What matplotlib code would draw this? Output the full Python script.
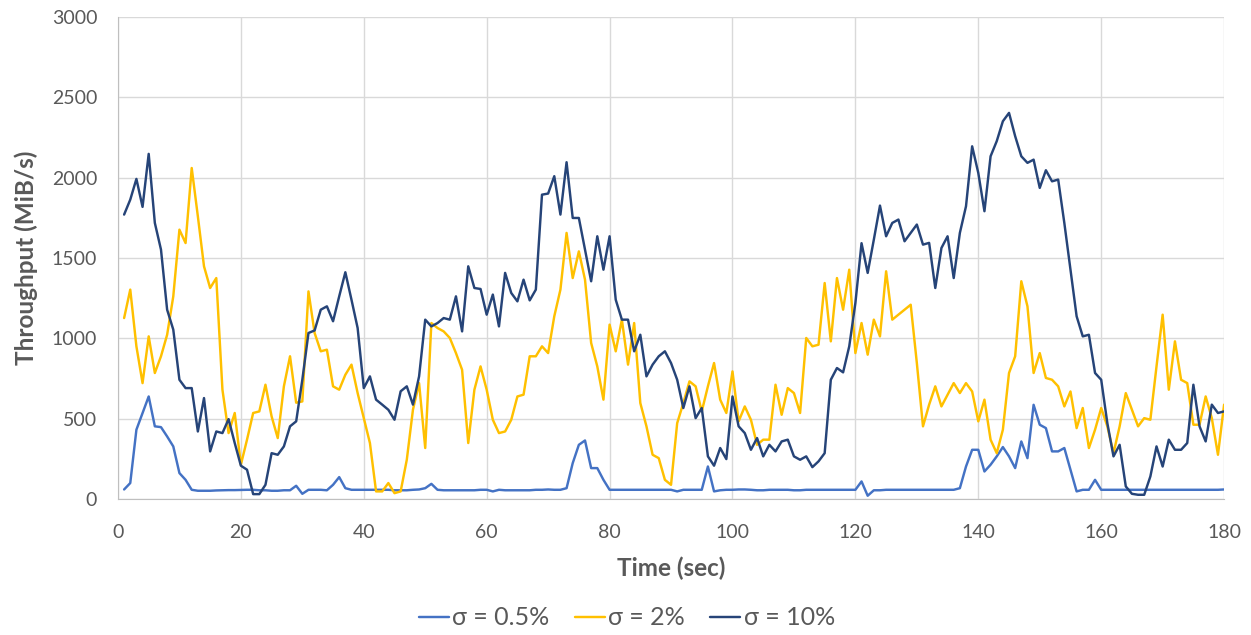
import matplotlib
matplotlib.use("Agg")
import matplotlib.pyplot as plt

plt.rcParams["font.family"] = ["Lato", "DejaVu Sans"]

time_sec = list(range(1, 181))

sigma_05 = [
    60, 100, 432, 536, 639, 453, 448, 390, 328, 162,
    120, 58, 52, 52, 52, 54, 55, 56, 56, 57,
    58, 58, 55, 55, 52, 52, 55, 55, 83, 33,
    58, 58, 58, 55, 89, 137, 68, 58, 58, 58,
    58, 58, 58, 58, 55, 55, 55, 58, 60, 68,
    95, 58, 55, 55, 55, 55, 55, 55, 58, 58,
    48, 58, 55, 55, 55, 55, 55, 58, 58, 60,
    58, 58, 68, 224, 338, 365, 193, 193, 120, 58,
    58, 58, 58, 58, 58, 58, 58, 58, 58, 58,
    48, 58, 58, 58, 58, 203, 48, 55, 58, 58,
    60, 60, 58, 55, 55, 58, 58, 58, 58, 55,
    55, 58, 58, 58, 58, 58, 58, 58, 58, 58,
    110, 21, 55, 55, 58, 58, 58, 58, 58, 58,
    58, 58, 58, 58, 58, 58, 68, 203, 307, 307,
    172, 214, 266, 324, 266, 193, 359, 255, 587, 463,
    442, 297, 297, 318, 183, 48, 58, 58, 120, 58,
    58, 58, 58, 58, 58, 58, 58, 58, 58, 58,
    58, 58, 58, 58, 58, 58, 58, 58, 58, 60,
]

sigma_2 = [
    1127, 1304, 951, 722, 1013, 785, 889, 1023, 1262, 1677,
    1594, 2061, 1760, 1449, 1314, 1376, 681, 411, 536, 214,
    370, 536, 546, 712, 515, 380, 702, 889, 600, 608,
    1293, 1034, 920, 930, 702, 681, 774, 837, 660, 504,
    349, 48, 48, 100, 37, 48, 245, 556, 722, 318,
    1096, 1065, 1044, 1003, 909, 805, 349, 681, 826, 681,
    494, 411, 421, 494, 639, 650, 889, 889, 951, 909,
    1138, 1304, 1657, 1376, 1542, 1366, 972, 826, 619, 1086,
    920, 1117, 837, 1096, 598, 453, 276, 255, 120, 89,
    473, 598, 733, 702, 546, 702, 847, 619, 536, 795,
    484, 577, 494, 338, 370, 370, 712, 525, 691, 660,
    536, 1003, 951, 961, 1345, 982, 1376, 1179, 1428, 909,
    1096, 899, 1117, 1013, 1418, 1117, 1148, 1179, 1210, 847,
    453, 588, 702, 577, 650, 722, 660, 722, 670, 484,
    619, 370, 286, 432, 785, 889, 1356, 1200, 785, 909,
    754, 743, 702, 577, 670, 442, 567, 318, 432, 567,
    453, 286, 453, 660, 556, 453, 504, 494, 826, 1148,
    681, 982, 743, 722, 463, 463, 639, 504, 276, 588,
]

sigma_10 = [
    1771, 1864, 1993, 1819, 2149, 1719, 1553, 1179, 1055, 743,
    691, 691, 421, 629, 297, 421, 411, 498, 349, 208,
    183, 31, 31, 89, 286, 276, 328, 453, 484, 743,
    1034, 1050, 1179, 1200, 1107, 1262, 1412, 1241, 1065, 691,
    764, 619, 588, 556, 494, 671, 702, 588, 764, 1117,
    1075, 1096, 1127, 1117, 1262, 1044, 1449, 1314, 1308, 1148,
    1273, 1075, 1408, 1283, 1231, 1366, 1237, 1304, 1895, 1902,
    2010, 1771, 2097, 1750, 1750, 1553, 1356, 1636, 1428, 1636,
    1241, 1117, 1117, 920, 1023, 764, 837, 889, 920, 847,
    743, 567, 702, 504, 567, 266, 208, 318, 249, 639,
    453, 411, 307, 380, 266, 338, 297, 359, 370, 266,
    245, 266, 199, 235, 286, 743, 816, 789, 951, 1221,
    1593, 1408, 1615, 1827, 1636, 1719, 1740, 1605, 1657, 1709,
    1584, 1595, 1314, 1563, 1636, 1376, 1657, 1823, 2196, 2030,
    1792, 2134, 2228, 2352, 2404, 2259, 2134, 2093, 2113, 1937,
    2047, 1978, 1989, 1719, 1428, 1138, 1013, 1023, 785, 743,
    473, 266, 338, 79, 33, 27, 27, 141, 328, 203,
    370, 307, 307, 349, 712, 453, 359, 588, 536, 546,
]

labels = ["σ = 0.5%", "σ = 2%", "σ = 10%"]
colors = ["#4472C4", "#FFC000", "#264478"]
gray = "#595959"

fig = plt.figure(figsize=(12.51, 6.35), dpi=100)
ax = fig.add_axes([0.0943, 0.214, 0.8842, 0.759])

for ys, lab, c in zip([sigma_05, sigma_2, sigma_10], labels, colors):
    ax.plot(time_sec, ys, color=c, lw=1.75, label=lab,
            solid_joinstyle="round", solid_capstyle="round")

ax.set_xlim(0, 180)
ax.set_ylim(0, 3000)
ax.set_xticks(range(0, 181, 20))
ax.set_yticks(range(0, 3001, 500))
ax.grid(True, color="#D9D9D9", lw=1)
ax.set_axisbelow(True)
for s in ["top", "right"]:
    ax.spines[s].set_visible(False)
for s in ["left", "bottom"]:
    ax.spines[s].set_color("#BFBFBF")
ax.tick_params(length=0, labelsize=14, labelcolor=gray)
ax.tick_params(axis="x", pad=18)
ax.tick_params(axis="y", pad=15)

ax.set_xlabel("Time (sec)", fontsize=17.5, fontweight="bold", color=gray, labelpad=11)
ax.set_ylabel("Throughput (MiB/s)", fontsize=17.5, fontweight="bold", color=gray, labelpad=10)

fig.legend(loc="center", bbox_to_anchor=(0.501, 0.027), ncol=3, frameon=False,
           fontsize=18, labelcolor=gray, handlelength=1.2, handletextpad=0.15,
           columnspacing=1.0)

fig.savefig("out.png", dpi=100)
